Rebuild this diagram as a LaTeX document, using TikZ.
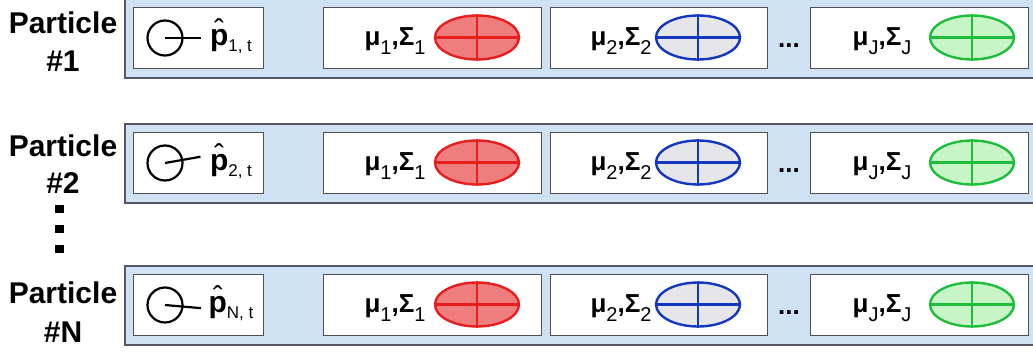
\documentclass[tikz,border=0pt]{standalone}
\usepackage{fontspec}
\setmainfont{Liberation Sans}
\usetikzlibrary{shapes.geometric}
\definecolor{rowfill}{RGB}{207,226,243}
\definecolor{rowborder}{RGB}{85,85,100}
\definecolor{cellborder}{RGB}{80,80,80}
\definecolor{redline}{RGB}{232,30,30}
\definecolor{redfill}{RGB}{240,125,125}
\definecolor{blueline}{RGB}{20,55,190}
\definecolor{bluefill}{RGB}{230,230,234}
\definecolor{greenline}{RGB}{30,190,60}
\definecolor{greenfill}{RGB}{200,245,200}
\newcommand\msx[1]{\raisebox{-9pt}{\fontsize{20}{20}\mdseries\selectfont #1}}
\newcommand\musig[1]{{\fontsize{26}{28}\bfseries\selectfont μ\msx{#1},Σ\msx{#1}}}
\newcommand\phatlab[1]{{\fontsize{30}{32}\bfseries\selectfont\ooalign{p\cr\hidewidth\raisebox{0.14em}{\mdseries\char"02C6}\hidewidth\cr}}\raisebox{-6pt}{\fontsize{17}{17}\selectfont #1}}
\tikzset{
  rowbox/.style={draw=rowborder, fill=rowfill, line width=1.5pt},
  cellbox/.style={draw=cellborder, fill=white, line width=1.2pt, anchor=north west, inner sep=0pt},
  gauss/.style={ellipse, minimum width=84pt, minimum height=44pt, inner sep=0pt, line width=2.4pt},
  redg/.style={gauss, draw=redline, fill=redfill},
  blueg/.style={gauss, draw=blueline, fill=bluefill},
  greeng/.style={gauss, draw=greenline, fill=greenfill},
  poscirc/.style={circle, draw=black, minimum size=35pt, inner sep=0pt, line width=2.2pt},
  lab/.style={font=\fontsize{30}{32}\bfseries\selectfont, anchor=base, inner sep=0pt},
  txt/.style={inner sep=0pt, anchor=base},
}
\begin{document}
\begin{tikzpicture}[x=1pt,y=-1pt]
\useasboundingbox (0,0) rectangle (1033,351);
\clip (0,0) rectangle (1033,351);
\foreach \r/\yo/\ang/\sub in {1/7/0/{1, t}, 2/132/10/{2, t}, 3/274/-5/{N, t}}{
  \node[rowbox, minimum width=930pt, minimum height=79pt, anchor=north west, inner sep=0pt] (row\r) at (124,\yo-9) {};
  \node[cellbox, minimum width=130pt, minimum height=61pt] (pc\r) at (133,\yo) {};
  \node[cellbox, minimum width=218pt, minimum height=61pt] (ca\r) at (323,\yo) {};
  \node[cellbox, minimum width=217pt, minimum height=61pt] (cb\r) at (550,\yo) {};
  \node[cellbox, minimum width=218pt, minimum height=61pt] (cj\r) at (810,\yo) {};
  \node[poscirc] (pos\r) at (165,\yo+31) {};
  \coordinate (tip\r) at ([shift={(\ang:36pt)}]pos\r.center);
  \draw[line width=2.2pt] (pos\r.center) -- (tip\r);
  \node[txt] (ph\r) at (231,\yo+38) {\phatlab{\sub}};
  \node[redg] (ga\r) at (477,\yo+30.5) {};
  \draw[redline, line width=2.2pt] (ga\r.west) -- (ga\r.east) (ga\r.north) -- (ga\r.south);
  \node[blueg] (gb\r) at (698,\yo+30.5) {};
  \draw[blueline, line width=2.2pt] (gb\r.west) -- (gb\r.east) (gb\r.north) -- (gb\r.south);
  \node[greeng] (gj\r) at (972,\yo+30.5) {};
  \draw[greenline, line width=2.2pt] (gj\r.west) -- (gj\r.east) (gj\r.north) -- (gj\r.south);
  \node[txt] (ma\r) at (395,\yo+38) {\musig{1}};
  \node[txt] (mb\r) at (621,\yo+38) {\musig{2}};
  \node[txt] (mj\r) at (882,\yo+38) {\musig{J}};
  \node[txt, font=\fontsize{26}{28}\bfseries\selectfont] (dd\r) at (789,\yo+40) {...};
}
\node[lab] (l1a) at (63,33) {Particle};
\node[lab] (l1b) at (63,71) {\#1};
\node[lab] (l2a) at (63,156) {Particle};
\node[lab] (l2b) at (63,193) {\#2};
\node[lab] (l3a) at (63,303) {Particle};
\node[lab] (l3b) at (63,342) {\#N};
\fill (55,205) rectangle (64,213);
\fill (55,225) rectangle (64,233);
\fill (55,245) rectangle (64,253);
\end{tikzpicture}
\end{document}
